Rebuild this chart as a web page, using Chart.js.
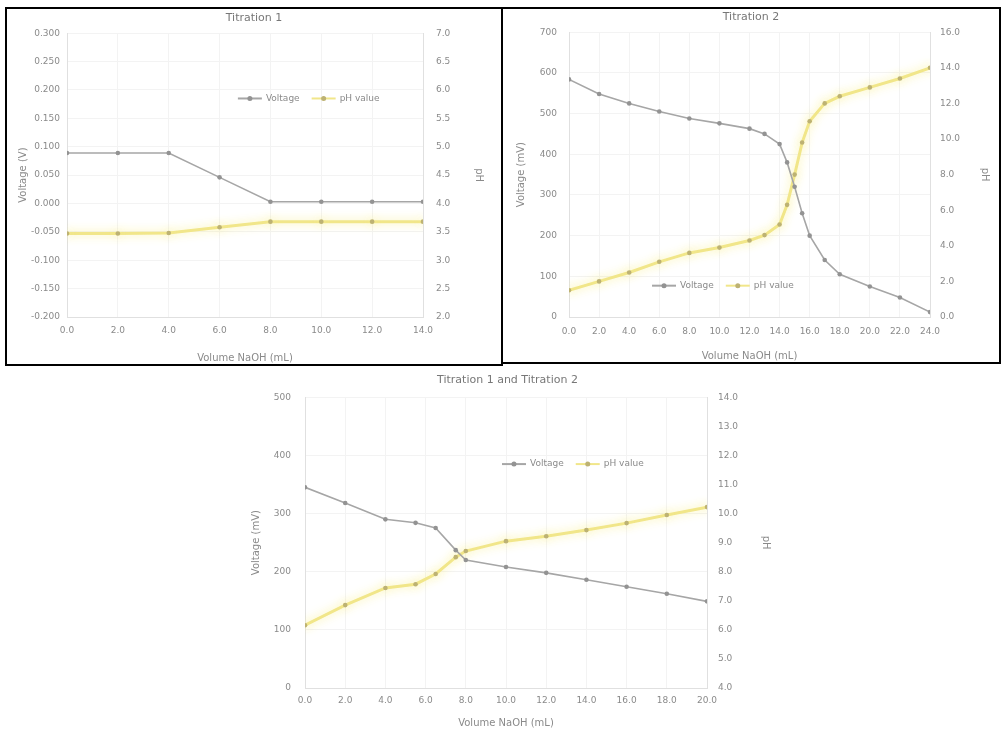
<!DOCTYPE html>
<html>
<head>
<meta charset="utf-8">
<script src="https://cdn.jsdelivr.net/npm/chart.js@4.4.1/dist/chart.umd.min.js"></script>
<style>
body { margin:0; background:#fff; width:1001px; height:729px; position:relative; overflow:hidden; }
.panel { position:absolute; box-sizing:border-box; }
#p1 { left:5px; top:7px; width:498px; height:359px; border:2px solid #000; }
#p2 { left:501px; top:7px; width:500px; height:357px; border:2px solid #000; }
#p3 { left:235px; top:365px; width:545px; height:364px; }
canvas { display:block; }
</style>
</head>
<body>
<div class="panel" id="p1"><canvas id="c1" width="494" height="355"></canvas></div>
<div class="panel" id="p2"><canvas id="c2" width="496" height="353"></canvas></div>
<div class="panel" id="p3"><canvas id="c3" width="545" height="364"></canvas></div>
<script>
// chart 1 - top left
const volume1 = [0, 2, 4, 6, 8, 10, 12, 14];
const voltage1 = [0.089, 0.089, 0.089, 0.046, 0.003, 0.003, 0.003, 0.003];
const ph1 = [3.47, 3.47, 3.48, 3.58, 3.68, 3.68, 3.68, 3.68];

// chart 2 - top right
const volume2 = [0, 2, 4, 6, 8, 10, 12, 13, 14, 14.5, 15, 15.5, 16, 17, 18, 20, 22, 24];
const voltage2 = [584, 548, 525, 505, 488, 476, 463, 450, 425, 380, 320, 255, 200, 140, 105, 75, 48, 12];
const ph2 = [1.5, 2.0, 2.5, 3.1, 3.6, 3.9, 4.3, 4.6, 5.2, 6.3, 8.0, 9.8, 11.0, 12.0, 12.4, 12.9, 13.4, 14.0];

// chart 3 - bottom
const volume3 = [0, 2, 4, 5.5, 6.5, 7.5, 8, 10, 12, 14, 16, 18, 20];
const voltage3 = [345, 318, 290, 284, 275, 237, 220, 208, 198, 186, 174, 162, 149];
const ph3 = [6.16, 6.85, 7.44, 7.57, 7.92, 8.5, 8.71, 9.05, 9.22, 9.43, 9.67, 9.95, 10.22];

const titles = ['Titration 1', 'Titration 2', 'Titration 1 and Titration 2'];
const seriesNames = ['Voltage', 'pH value'];
const xTitle = 'Volume NaOH (mL)';

const grayLine = '#a6a6a6';
const yellowLine = '#f1e68a';
const textColor = '#8a8a8a';
const fontFam = '"DejaVu Sans", sans-serif';

function pts(xs, ys) {
  return xs.map((x, i) => ({ x: x, y: ys[i] }));
}

const floatLegend = {
  id: 'floatLegend',
  afterDraw(chart, args, opts) {
    const ctx = chart.ctx, a = chart.chartArea;
    let x = a.left + opts.x * (a.right - a.left);
    const y = a.top + opts.y * (a.bottom - a.top);
    ctx.save();
    ctx.font = '9px ' + fontFam;
    ctx.textBaseline = 'middle';
    chart.data.datasets.forEach(ds => {
      ctx.strokeStyle = ds.borderColor;
      ctx.lineWidth = 2;
      ctx.beginPath(); ctx.moveTo(x, y); ctx.lineTo(x + 24, y); ctx.stroke();
      ctx.fillStyle = ds.pointBackgroundColor;
      ctx.beginPath(); ctx.arc(x + 12, y, 2.5, 0, Math.PI * 2); ctx.fill();
      x += 28;
      ctx.fillStyle = textColor;
      ctx.fillText(ds.label, x, y);
      x += ctx.measureText(ds.label).width + 12;
    });
    ctx.restore();
  }
};

// soft glow under the yellow line
const glow = {
  id: 'glow',
  beforeDatasetDraw(chart, args) {
    if (args.index === 1) {
      chart.ctx.save();
      chart.ctx.shadowColor = 'rgba(250,240,140,0.9)';
      chart.ctx.shadowBlur = 10;
    }
  },
  afterDatasetDraw(chart, args) {
    if (args.index === 1) chart.ctx.restore();
  }
};

function makeChart(id, c) {
  const tick = { color: textColor, font: { size: 9, family: fontFam } };
  const axTitle = (text, pad) => ({ display: true, text: text, color: textColor, font: { size: 10, family: fontFam }, padding: pad });
  new Chart(document.getElementById(id), {
    type: 'line',
    data: {
      datasets: [
        {
          label: seriesNames[0], data: pts(c.x, c.v), yAxisID: 'y',
          borderColor: grayLine, borderWidth: 1.6, backgroundColor: grayLine,
          pointBackgroundColor: '#939393', pointBorderWidth: 0, pointRadius: 2.3, tension: 0
        },
        {
          label: seriesNames[1], data: pts(c.x, c.p), yAxisID: 'y1',
          borderColor: yellowLine, borderWidth: 3, backgroundColor: yellowLine,
          pointBackgroundColor: '#bdb273', pointBorderWidth: 0, pointRadius: 2.3, tension: 0
        }
      ]
    },
    options: {
      responsive: false,
      animation: false,
      layout: { padding: 0 },
      plugins: {
        legend: { display: false },
        tooltip: { enabled: false },
        title: {
          display: true, text: c.title, color: '#777',
          font: { size: 11, weight: 'normal', family: fontFam },
          padding: { top: c.titleTop, bottom: c.titleBottom }
        },
        floatLegend: { x: c.legX, y: c.legY }
      },
      scales: {
        x: {
          type: 'linear', min: c.xMin, max: c.xMax,
          ticks: Object.assign({ stepSize: c.xStep, padding: c.xPad, callback: v => v.toFixed(1) }, tick),
          grid: { color: '#f3f3f3', drawTicks: false },
          border: { color: '#e0e0e0' },
          title: axTitle(xTitle, { top: c.xTitlePad, bottom: 0 }),
          afterFit: s => { s.height = c.xH; }
        },
        y: {
          position: 'left', min: c.yMin, max: c.yMax,
          ticks: Object.assign({ stepSize: c.yStep, padding: c.yPad, callback: v => v.toFixed(c.yDec) }, tick),
          grid: { color: '#f3f3f3', drawTicks: false },
          border: { color: '#e0e0e0' },
          title: axTitle(c.yTitle, { top: c.yTitlePad, bottom: 0 }),
          afterFit: s => { s.width = c.yW; }
        },
        y1: {
          position: 'right', min: c.rMin, max: c.rMax,
          ticks: Object.assign({ stepSize: c.rStep, padding: c.rPad, callback: v => v.toFixed(1) }, tick),
          grid: { drawOnChartArea: false, drawTicks: false },
          border: { color: '#e0e0e0' },
          title: axTitle('pH', { top: c.rTitlePad, bottom: 0 }),
          afterFit: s => { s.width = c.rW; }
        }
      }
    },
    plugins: [floatLegend, glow]
  });
}

makeChart('c1', {
  title: titles[0], x: volume1, v: voltage1, p: ph1,
  xMin: 0, xMax: 14, xStep: 2, yMin: -0.2, yMax: 0.3, yStep: 0.05, yDec: 3,
  rMin: 2, rMax: 7, rStep: 0.5, yTitle: 'Voltage (V)',
  titleTop: 3, titleBottom: 8, xH: 47, xPad: 8, xTitlePad: 6,
  yW: 60, yPad: 7, yTitlePad: 10, rW: 78, rPad: 13, rTitlePad: 16,
  legX: 0.48, legY: 0.23
});

makeChart('c2', {
  title: titles[1], x: volume2, v: voltage2, p: ph2,
  xMin: 0, xMax: 24, xStep: 2, yMin: 0, yMax: 700, yStep: 100, yDec: 0,
  rMin: 0, rMax: 16, rStep: 2, yTitle: 'Voltage (mV)',
  titleTop: 2, titleBottom: 8, xH: 45, xPad: 9, xTitlePad: 6,
  yW: 66, yPad: 12, yTitlePad: 12, rW: 69, rPad: 10, rTitlePad: 8,
  legX: 0.23, legY: 0.89
});

makeChart('c3', {
  title: titles[2], x: volume3, v: voltage3, p: ph3,
  xMin: 0, xMax: 20, xStep: 2, yMin: 0, yMax: 500, yStep: 100, yDec: 0,
  rMin: 4, rMax: 14, rStep: 1, yTitle: 'Voltage (mV)',
  titleTop: 9, titleBottom: 10, xH: 41, xPad: 7, xTitlePad: 4,
  yW: 70, yPad: 14, yTitlePad: 15, rW: 73, rPad: 11, rTitlePad: 8,
  legX: 0.49, legY: 0.23
});
</script>
</body>
</html>
